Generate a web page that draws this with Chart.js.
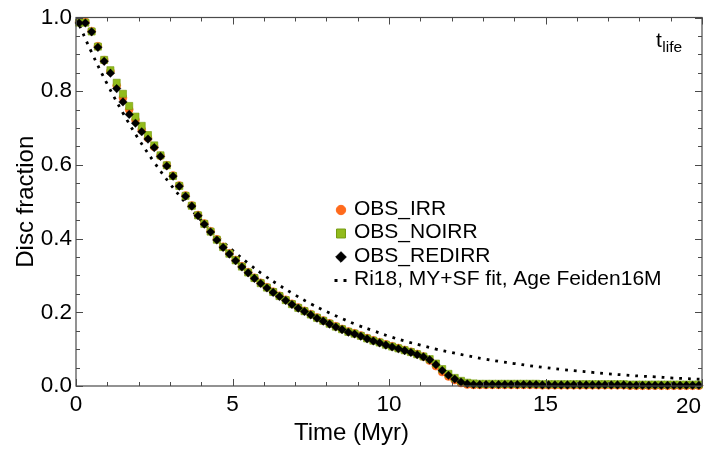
<!DOCTYPE html>
<html>
<head>
<meta charset="utf-8">
<script src="https://cdn.jsdelivr.net/npm/chart.js@4.4.1/dist/chart.umd.min.js"></script>
<style>
html,body{margin:0;padding:0;background:#fff;}
#wrap{width:715px;height:453px;}
</style>
</head>
<body>
<div id="wrap"><canvas id="c" width="715" height="453"></canvas></div>
<script>
// ---------- DATA ----------
const seriesNames = ["OBS_IRR", "OBS_NOIRR", "OBS_REDIRR", "Ri18, MY+SF fit, Age Feiden16M"];
const xTitle = "Time (Myr)";
const yTitle = "Disc fraction";
const xTickLabels = [0, 5, 10, 15, 20];
const yTickLabels = ["0.0", "0.2", "0.4", "0.6", "0.8", "1.0"];

const times = [0.1,0.3,0.5,0.7,0.9,1.1,1.3,1.5,1.7,1.9,2.1,2.3,2.5,2.7,2.9,3.1,3.3,3.5,3.7,3.9,
  4.1,4.3,4.5,4.7,4.9,5.1,5.3,5.5,5.7,5.9,6.1,6.3,6.5,6.7,6.9,7.1,7.3,7.5,7.7,7.9,
  8.1,8.3,8.5,8.7,8.9,9.1,9.3,9.5,9.7,9.9,10.1,10.3,10.5,10.7,10.9,11.1,11.3,11.5,11.7,11.9,
  12.1,12.3,12.5,12.7,12.9,13.1,13.3,13.5,13.7,13.9,14.1,14.3,14.5,14.7,14.9,15.1,15.3,15.5,15.7,15.9,
  16.1,16.3,16.5,16.7,16.9,17.1,17.3,17.5,17.7,17.9,18.1,18.3,18.5,18.7,18.9,19.1,19.3,19.5,19.7,19.9];

const obsIrr = [0.988,0.988,0.963,0.922,0.884,0.854,0.815,0.782,0.750,0.722,0.695,0.673,0.649,0.625,0.599,0.571,0.544,0.517,0.490,0.464,
  0.441,0.420,0.398,0.378,0.360,0.342,0.325,0.309,0.294,0.280,0.268,0.256,0.245,0.234,0.223,0.213,0.204,0.195,0.186,0.178,
  0.170,0.162,0.155,0.148,0.143,0.137,0.130,0.124,0.119,0.113,0.108,0.103,0.098,0.093,0.087,0.080,0.069,0.054,0.038,0.026,
  0.016,0.008,0.004,0.003,0.003,0.003,0.003,0.003,0.003,0.003,0.003,0.003,0.003,0.003,0.002,0.002,0.002,0.002,0.002,0.002,
  0.002,0.002,0.002,0.002,0.002,0.002,0.002,0.002,0.001,0.001,0.001,0.001,0.001,0.001,0.001,0.001,0.001,0.001,0.001,0.001];

const obsNoIrr = [0.986,0.986,0.962,0.921,0.885,0.857,0.823,0.793,0.760,0.731,0.706,0.681,0.653,0.626,0.599,0.570,0.543,0.516,0.489,0.463,
  0.440,0.419,0.397,0.377,0.359,0.341,0.324,0.308,0.293,0.279,0.267,0.255,0.244,0.233,0.222,0.212,0.203,0.194,0.185,0.177,
  0.169,0.161,0.154,0.147,0.142,0.136,0.129,0.123,0.118,0.112,0.107,0.102,0.097,0.092,0.086,0.080,0.073,0.061,0.046,0.033,
  0.022,0.014,0.009,0.007,0.006,0.006,0.006,0.006,0.006,0.006,0.006,0.006,0.006,0.006,0.005,0.005,0.005,0.005,0.005,0.005,
  0.005,0.005,0.005,0.005,0.005,0.005,0.005,0.005,0.004,0.004,0.004,0.004,0.004,0.004,0.004,0.004,0.004,0.004,0.004,0.004];

const obsRedIrr = [0.985,0.985,0.961,0.919,0.881,0.849,0.807,0.771,0.737,0.713,0.690,0.670,0.647,0.623,0.597,0.569,0.542,0.515,0.488,0.462,
  0.439,0.418,0.396,0.376,0.358,0.340,0.323,0.307,0.292,0.278,0.266,0.254,0.243,0.232,0.221,0.211,0.202,0.193,0.184,0.176,
  0.168,0.160,0.153,0.146,0.141,0.135,0.128,0.122,0.117,0.111,0.106,0.101,0.096,0.091,0.085,0.079,0.071,0.058,0.042,0.029,
  0.019,0.011,0.006,0.004,0.004,0.004,0.004,0.004,0.004,0.004,0.004,0.004,0.004,0.004,0.003,0.003,0.003,0.003,0.003,0.003,
  0.003,0.003,0.003,0.003,0.003,0.003,0.003,0.003,0.002,0.002,0.002,0.002,0.002,0.002,0.002,0.002,0.002,0.002,0.002,0.002];

const fitTimes = [0,0.5,1,1.5,2,2.5,3,3.5,4,4.5,5,5.5,6,6.5,7,7.5,8,8.5,9,9.5,10,
  10.5,11,11.5,12,12.5,13,13.5,14,14.5,15,15.5,16,16.5,17,17.5,18,18.5,19,19.5,20];
const fitValues = [1.000,0.905,0.819,0.741,0.670,0.607,0.549,0.497,0.449,0.407,0.368,0.333,0.301,0.273,0.247,0.223,0.202,0.183,0.165,0.150,0.135,
  0.122,0.111,0.100,0.091,0.082,0.074,0.067,0.061,0.055,0.050,0.045,0.041,0.037,0.033,0.030,0.027,0.025,0.022,0.020,0.018];

// ---------- STYLE ----------
const FONT_FAMILY = "'Liberation Sans', Arial, Helvetica, sans-serif";
const ORANGE = '#ff6a1c';
const GREEN = '#92bb1c';
const GREEN_EDGE = '#729a0e';
const FRAME = '#4a4a4a';

const toXY = (xs, ys) => xs.map((x, i) => ({x: x, y: ys[i]}));
const tickFont = {family: FONT_FAMILY, size: 22.5};
const titleFont = {family: FONT_FAMILY, size: 24};

const framePlugin = {
  id: 'frame',
  afterDatasetsDraw(chart) {
    const ctx = chart.ctx;
    const a = chart.chartArea;
    const xs = chart.scales.x, ys = chart.scales.y;
    ctx.save();
    ctx.strokeStyle = FRAME;
    ctx.lineWidth = 1.2;
    ctx.strokeRect(a.left, a.top, a.right - a.left, a.bottom - a.top);
    ctx.lineWidth = 1;
    ctx.beginPath();
    for (let v = 0; v <= 20; v += 1) {
      const px = Math.round(xs.getPixelForValue(v)) + 0.5;
      const len = (v % 5 === 0) ? 7 : 4;
      ctx.moveTo(px, a.bottom); ctx.lineTo(px, a.bottom - len);
      ctx.moveTo(px, a.top); ctx.lineTo(px, a.top + len);
    }
    for (let k = 0; k <= 20; k++) {
      const v = k * 0.05;
      const py = Math.round(ys.getPixelForValue(v)) + 0.5;
      const len = (k % 4 === 0) ? 7 : 4;
      ctx.moveTo(a.left, py); ctx.lineTo(a.left + len, py);
      ctx.moveTo(a.right, py); ctx.lineTo(a.right - len, py);
    }
    ctx.stroke();
    ctx.restore();
  },
  afterDraw(chart) {
    const ctx = chart.ctx;
    const xs = chart.scales.x;
    ctx.save();
    ctx.fillStyle = '#000';
    // last x tick label, kept inside the figure (right-aligned on the last tick)
    ctx.font = tickFont.size + 'px ' + FONT_FAMILY;
    ctx.textAlign = 'right';
    ctx.textBaseline = 'alphabetic';
    const lastX = xTickLabels[xTickLabels.length - 1];
    ctx.fillText(String(lastX), xs.getPixelForValue(lastX) - 1, 413);
    // x axis title
    ctx.font = titleFont.size + 'px ' + FONT_FAMILY;
    ctx.textAlign = 'center';
    ctx.textBaseline = 'middle';
    ctx.fillText(xTitle, xs.getPixelForValue(8.8), 433);
    // legend
    const lx = 341, tx = 354;
    const rows = [
      {y: 210, style: 'circle', r: 4.7, fill: ORANGE, stroke: ORANGE},
      {y: 233.5, style: 'rect', r: 6.3, fill: GREEN, stroke: GREEN_EDGE},
      {y: 257, style: 'rectRot', r: 5.3, fill: '#000', stroke: '#000'},
    ];
    rows.forEach((row) => {
      ctx.fillStyle = row.fill; ctx.strokeStyle = row.stroke; ctx.lineWidth = 1;
      Chart.helpers.drawPoint(ctx, {pointStyle: row.style, radius: row.r, borderWidth: 1}, lx, row.y);
    });
    ctx.fillStyle = '#000';
    ctx.fillRect(334.5, 279, 3, 3);
    ctx.fillRect(343.5, 279, 3, 3);
    ctx.font = '21px ' + FONT_FAMILY;
    ctx.textAlign = 'left';
    ctx.textBaseline = 'alphabetic';
    const baselines = [214.5, 238, 261.5, 285];
    seriesNames.forEach((name, i) => ctx.fillText(name, tx, baselines[i]));
    // t_life label
    ctx.font = '21px ' + FONT_FAMILY;
    ctx.fillText('t', 656, 47);
    const tw = ctx.measureText('t').width;
    ctx.font = '15.5px ' + FONT_FAMILY;
    ctx.fillText('life', 656 + tw + 0.5, 52);
    ctx.restore();
  }
};

new Chart(document.getElementById('c'), {
  type: 'scatter',
  data: {
    datasets: [
      {
        label: seriesNames[3],
        data: toXY(fitTimes, fitValues),
        showLine: true,
        borderColor: '#000',
        borderWidth: 2.8,
        borderDash: [2.8, 6.0],
        borderCapStyle: 'butt',
        pointRadius: 0,
        tension: 0.4,
        fill: false,
        order: 4
      },
      {
        label: seriesNames[0],
        data: toXY(times, obsIrr),
        pointStyle: 'circle',
        pointRadius: 4.0,
        backgroundColor: ORANGE,
        borderColor: ORANGE,
        borderWidth: 0.5,
        showLine: false,
        clip: false,
        order: 3
      },
      {
        label: seriesNames[1],
        data: toXY(times, obsNoIrr),
        pointStyle: 'rect',
        pointRadius: 5.0,
        backgroundColor: GREEN,
        borderColor: GREEN_EDGE,
        borderWidth: 0.6,
        showLine: false,
        clip: false,
        order: 2
      },
      {
        label: seriesNames[2],
        data: toXY(times, obsRedIrr),
        pointStyle: 'rectRot',
        pointRadius: 4.3,
        backgroundColor: '#000',
        borderColor: '#000',
        borderWidth: 0.3,
        showLine: false,
        clip: false,
        order: 1
      }
    ]
  },
  options: {
    responsive: false,
    animation: false,
    devicePixelRatio: 1,
    layout: {padding: {top: 17, right: 13, left: 0, bottom: 0}},
    plugins: {legend: {display: false}, tooltip: {enabled: false}},
    scales: {
      x: {
        type: 'linear', min: 0, max: 20,
        afterBuildTicks(s) { s.ticks = xTickLabels.map(v => ({value: v})); },
        ticks: {font: tickFont, color: '#000', padding: 5, maxRotation: 0, autoSkip: false,
                callback: (v, i) => (i === xTickLabels.length - 1 ? '' : String(v))},
        grid: {display: false, drawTicks: false},
        border: {display: false},
        title: {display: false},
        afterFit(s) { s.height = 67; }
      },
      y: {
        type: 'linear', min: 0, max: 1,
        afterBuildTicks(s) { s.ticks = yTickLabels.map(t => ({value: parseFloat(t)})); },
        ticks: {font: tickFont, color: '#000', padding: 4, autoSkip: false,
                callback: (v, i) => yTickLabels[i]},
        grid: {display: false, drawTicks: false},
        border: {display: false},
        title: {display: true, text: yTitle, color: '#000', font: titleFont,
                padding: {top: 12, bottom: 0}},
        afterFit(s) { s.width = 76; }
      }
    }
  },
  plugins: [framePlugin]
});
</script>
</body>
</html>
